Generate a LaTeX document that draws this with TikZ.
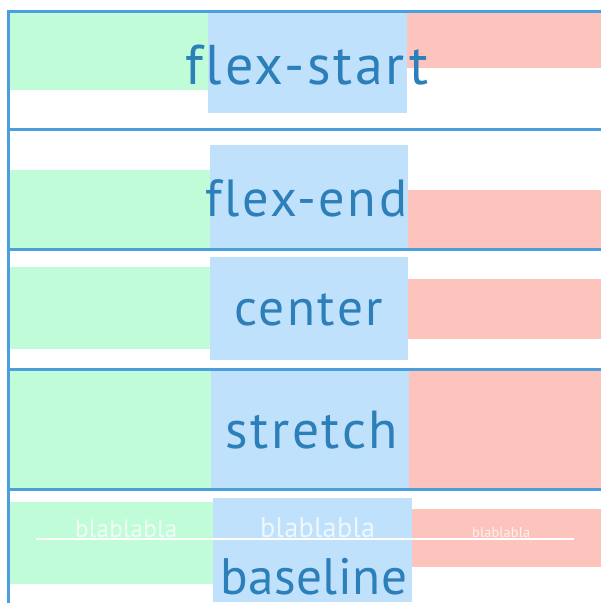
\documentclass[tikz,border=0pt]{standalone}
\usepackage{fontspec}
\usepackage{graphicx}
\newfontfamily\lblfont[LetterSpace=5,Ligatures={NoCommon}]{PT Sans}
\newfontfamily\tightfont[LetterSpace=1,Ligatures={NoCommon}]{PT Sans}
\definecolor{gr}{HTML}{C0FCD8}
\definecolor{bl}{HTML}{BFE1FB}
\definecolor{rd}{HTML}{FDC4BE}
\definecolor{ln}{HTML}{4A9FDC}
\definecolor{tx}{HTML}{2C7FB8}
\newcommand\fitlbl[2]{\resizebox{#1pt}{!}{\lblfont #2}}
\newcommand\fittight[2]{\resizebox{#1pt}{!}{\tightfont #2}}
\tikzset{
  gbox/.style={fill=gr},
  bbox/.style={fill=bl},
  rbox/.style={fill=rd},
  sep/.style={draw=ln,line width=3pt},
  lbl/.style={anchor=base west,inner sep=0pt,text=tx},
  bla/.style={anchor=base west,inner sep=0pt,text=white,opacity=0.75},
}
\begin{document}
\begin{tikzpicture}[x=1pt,y=-1pt]
\useasboundingbox (0,0) rectangle (601,603);
% row 1 flex-start
\fill[gbox] (9.5,12.5) rectangle (208,90);
\fill[bbox] (208,12.5) rectangle (407,113);
\fill[rbox] (407,12.5) rectangle (601,68);
\node[lbl] (t1) at (185,84) {\fitlbl{243}{flex-start}};
% row 2 flex-end
\fill[bbox] (210,145) rectangle (408,249);
\fill[gbox] (9.5,170) rectangle (210,249);
\fill[rbox] (408,190) rectangle (601,249);
\node[lbl] (t2) at (205,216) {\fitlbl{202}{flex-end}};
% row 3 center
\fill[bbox] (210,257) rectangle (408,360);
\fill[gbox] (9.5,267) rectangle (210,349);
\fill[rbox] (408,279) rectangle (601,339);
\node[lbl] (t3) at (234,325) {\fitlbl{149}{center}};
% row 4 stretch
\fill[gbox] (9.5,371) rectangle (211,488);
\fill[bbox] (211,371) rectangle (409,488);
\fill[rbox] (409,371) rectangle (601,488);
\node[lbl] (t4) at (225,448) {\fitlbl{173}{stretch}};
% row 5 baseline
\fill[gbox] (9.5,502) rectangle (213,584);
\fill[bbox] (213,498) rectangle (412,602);
\fill[rbox] (412,509) rectangle (601,567);
\node[bla] (b1) at (75,537) {\fittight{102}{blablabla}};
\node[bla] (b2) at (260,537) {\fittight{115}{blablabla}};
\node[bla] (b3) at (472,537) {\fittight{58}{blablabla}};
\coordinate (la) at (36,539);
\coordinate (lb) at (574,539);
\draw[white,line width=2pt] (la) -- (lb);
\node[lbl] (t5) at (220,594) {\fittight{187}{baseline}};
% frame and separators
\draw[sep] (8.3,603) -- (8.3,11) -- (601,11);
\draw[sep] (8.3,129) -- (601,129);
\draw[sep] (8.3,249) -- (601,249);
\draw[sep] (8.3,369.5) -- (601,369.5);
\draw[sep] (8.3,489) -- (601,489);
\end{tikzpicture}
\end{document}
